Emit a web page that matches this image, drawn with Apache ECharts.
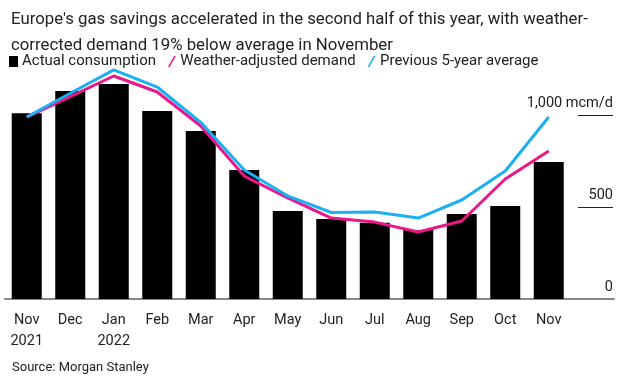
<!DOCTYPE html>
<html>
<head>
<meta charset="utf-8">
<script src="https://cdn.jsdelivr.net/npm/echarts@6/dist/echarts.min.js"></script>
<style>
  html, body { margin: 0; padding: 0; background: #fff; }
  #chart { width: 624px; height: 376px; }
</style>
</head>
<body>
<div id="chart"></div>
<script>
// months, Nov 2021 .. Nov 2022 (last empty slot keeps the axis running to the right edge)
var months = ['Nov\n2021', 'Dec', 'Jan\n2022', 'Feb', 'Mar', 'Apr', 'May', 'Jun', 'Jul', 'Aug', 'Sep', 'Oct', 'Nov', ''];

// mcm/d
var actual   = [1010, 1130, 1168, 1022, 913, 701, 478, 435, 415, 375, 462, 505, 745];
var weather  = [ 989, 1100, 1212, 1125, 940, 668, 549, 440, 418, 364, 424, 652, 804];
var fiveYear = [ 989, 1118, 1245, 1152, 960, 701, 560, 470, 473, 440, 538, 696, 989];

var yTicks = [0, 500, 1000];

var font = 'Roboto';
var ink = '#222';

var chart = echarts.init(document.getElementById('chart'));

var slash = 'path://M0,10 L1.6,10 L7,0 L5.4,0 Z';

option = {
    animation: false,
    textStyle: {fontFamily: font},
    title: [
        {
            text: "Europe's gas savings accelerated in the second half of this year, with weather-\ncorrected demand 19% below average in November",
            left: 6,
            top: 2,
            textStyle: {fontSize: 16.8, fontWeight: 'normal', color: ink, lineHeight: 26, fontFamily: font}
        },
        {
            text: 'Source: Morgan Stanley',
            left: 7,
            top: 356,
            textStyle: {fontSize: 13, fontWeight: 'normal', color: ink, fontFamily: font}
        }
    ],
    legend: {
        left: 4,
        top: 49,
        itemGap: 12,
        itemWidth: 9,
        itemHeight: 11,
        textStyle: {fontSize: 15, color: ink, fontFamily: font, padding: [0, 0, 0, -1]},
        data: [
            {name: 'Actual consumption', icon: 'rect'},
            {name: 'Weather-adjusted demand', icon: slash},
            {name: 'Previous 5-year average', icon: slash}
        ]
    },
    grid: [
        {left: 5, right: 10, top: 69, bottom: 77},
        {left: 578, right: 11, top: 69, bottom: 77}
    ],
    xAxis: [
        {
            type: 'category',
            data: months,
            gridIndex: 0,
            axisLine: {lineStyle: {color: '#888', width: 2}},
            axisTick: {
                alignWithLabel: true,
                length: 5,
                interval: function (i) { return i < months.length - 1; },
                lineStyle: {color: '#888', width: 1}
            },
            axisLabel: {
                interval: 0,
                fontSize: 14.5,
                color: ink,
                lineHeight: 21,
                margin: 11
            }
        },
        {type: 'value', gridIndex: 1, show: false}
    ],
    yAxis: [
        {type: 'value', gridIndex: 0, min: 0, max: 1250, show: false},
        {
            type: 'value',
            gridIndex: 1,
            position: 'right',
            min: 0,
            max: 1250,
            interval: 500,
            axisLine: {show: false},
            axisTick: {show: false},
            splitLine: {lineStyle: {color: ['#222', '#222', '#222', 'rgba(0,0,0,0)'], width: 1}},
            axisLabel: {
                inside: true,
                margin: 0,
                fontSize: 14.5,
                color: ink,
                verticalAlign: 'bottom',
                padding: [0, 0, 4, 0],
                formatter: function (v) {
                    if (yTicks.indexOf(v) < 0) return '';
                    return v === 1000 ? '1,000 mcm/d' : String(v);
                }
            }
        }
    ],
    series: [
        {
            name: 'Actual consumption',
            type: 'bar',
            data: actual,
            barWidth: 30,
            itemStyle: {color: '#000'}
        },
        {
            name: 'Weather-adjusted demand',
            type: 'line',
            data: weather,
            showSymbol: false,
            symbol: 'none',
            itemStyle: {color: '#e8178a'},
            lineStyle: {color: '#e8178a', width: 3}
        },
        {
            name: 'Previous 5-year average',
            type: 'line',
            data: fiveYear,
            showSymbol: false,
            symbol: 'none',
            itemStyle: {color: '#1bb0f2'},
            lineStyle: {color: '#1bb0f2', width: 3}
        }
    ]
};

chart.setOption(option);
</script>
</body>
</html>
